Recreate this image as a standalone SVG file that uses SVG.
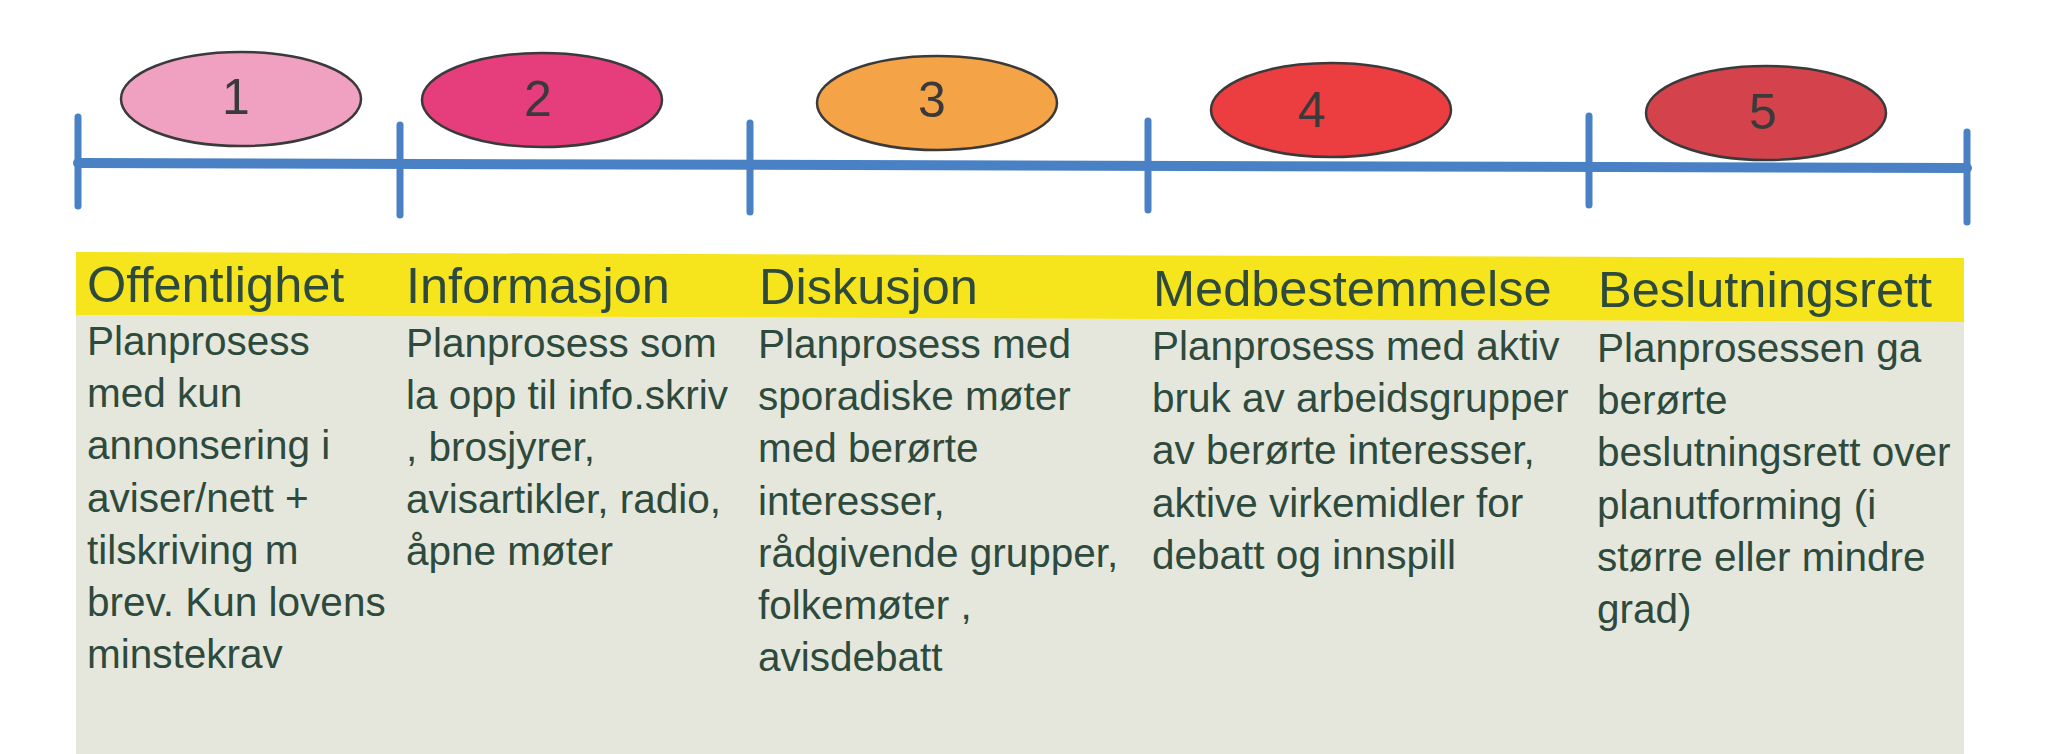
<svg xmlns="http://www.w3.org/2000/svg" width="2047" height="754" viewBox="0 0 2047 754">
  <style>
    .num { font-family: "Liberation Sans", Arial, sans-serif; font-size: 50px; fill: #3a3a3a; text-anchor: middle; }
    .oval { stroke: #3a3a3a; stroke-width: 2.5; }
    .axis { stroke: #4a80c4; stroke-width: 10; stroke-linecap: round; fill: none; }
    .tick { stroke: #4a80c4; stroke-width: 7; stroke-linecap: round; fill: none; }
    .head { font-family: "Liberation Sans", Arial, sans-serif; font-size: 50.5px; fill: #2d4a3c; }
    .body { font-family: "Liberation Sans", Arial, sans-serif; font-size: 40.5px; fill: #2d4a3c; }
  </style>
  <rect width="2047" height="754" fill="#ffffff"/>

  <!-- table background -->
  <g id="table">
    <polygon points="76,315 1964,322 1964,754 76,754" fill="#e5e7dd"/>
    <polygon points="76,252 1964,258 1964,322 76,315" fill="#f6e51c"/>
  </g>

  <!-- timeline axis -->
  <g id="connectors">
    <line class="axis" x1="78" y1="163" x2="1967" y2="168"/>
    <line class="tick" x1="78" y1="117" x2="78" y2="206"/>
    <line class="tick" x1="400" y1="125" x2="400" y2="215"/>
    <line class="tick" x1="750" y1="123" x2="750" y2="212"/>
    <line class="tick" x1="1148" y1="121" x2="1148" y2="210"/>
    <line class="tick" x1="1589" y1="116" x2="1589" y2="205"/>
    <line class="tick" x1="1967" y1="132" x2="1967" y2="222"/>
  </g>

  <g id="node-1">
    <ellipse class="oval" cx="241" cy="99" rx="120" ry="47" fill="#f0a1c1"/>
    <text class="num" x="236" y="114">1</text>
  </g>
  <g id="node-2">
    <ellipse class="oval" cx="542" cy="100" rx="120" ry="47" fill="#e63d7d"/>
    <text class="num" x="538" y="116">2</text>
  </g>
  <g id="node-3">
    <ellipse class="oval" cx="937" cy="103" rx="120" ry="47" fill="#f4a447"/>
    <text class="num" x="932" y="117">3</text>
  </g>
  <g id="node-4">
    <ellipse class="oval" cx="1331" cy="110" rx="120" ry="47" fill="#ec3d41"/>
    <text class="num" x="1312" y="127">4</text>
  </g>
  <g id="node-5">
    <ellipse class="oval" cx="1766" cy="113" rx="120" ry="47" fill="#d4424c"/>
    <text class="num" x="1763" y="129">5</text>
  </g>

  <g id="col-1">
    <text class="head" x="87" y="302">Offentlighet</text>
    <text class="body" x="87" y="355">Planprosess</text>
    <text class="body" x="87" y="407.2">med kun</text>
    <text class="body" x="87" y="459.4">annonsering i</text>
    <text class="body" x="87" y="511.6">aviser/nett +</text>
    <text class="body" x="87" y="563.8">tilskriving m</text>
    <text class="body" x="87" y="616">brev. Kun lovens</text>
    <text class="body" x="87" y="668.2">minstekrav</text>
  </g>
  <g id="col-2">
    <text class="head" x="406" y="303">Informasjon</text>
    <text class="body" x="406" y="356.5">Planprosess som</text>
    <text class="body" x="406" y="408.7">la opp til info.skriv</text>
    <text class="body" x="406" y="460.9">, brosjyrer,</text>
    <text class="body" x="406" y="513.1">avisartikler, radio,</text>
    <text class="body" x="406" y="565.3">åpne møter</text>
  </g>
  <g id="col-3">
    <text class="head" x="759" y="304">Diskusjon</text>
    <text class="body" x="758" y="358">Planprosess med</text>
    <text class="body" x="758" y="410.2">sporadiske møter</text>
    <text class="body" x="758" y="462.4">med berørte</text>
    <text class="body" x="758" y="514.6">interesser,</text>
    <text class="body" x="758" y="566.8">rådgivende grupper,</text>
    <text class="body" x="758" y="619">folkemøter ,</text>
    <text class="body" x="758" y="671.2">avisdebatt</text>
  </g>
  <g id="col-4">
    <text class="head" x="1153" y="305.5">Medbestemmelse</text>
    <text class="body" x="1152" y="360">Planprosess med aktiv</text>
    <text class="body" x="1152" y="412.2">bruk av arbeidsgrupper</text>
    <text class="body" x="1152" y="464.4">av berørte interesser,</text>
    <text class="body" x="1152" y="516.6">aktive virkemidler for</text>
    <text class="body" x="1152" y="568.8">debatt og innspill</text>
  </g>
  <g id="col-5">
    <text class="head" x="1598" y="307">Beslutningsrett</text>
    <text class="body" x="1597" y="362">Planprosessen ga</text>
    <text class="body" x="1597" y="414.2">berørte</text>
    <text class="body" x="1597" y="466.4">beslutningsrett over</text>
    <text class="body" x="1597" y="518.6">planutforming (i</text>
    <text class="body" x="1597" y="570.8">større eller mindre</text>
    <text class="body" x="1597" y="623">grad)</text>
  </g>
</svg>
